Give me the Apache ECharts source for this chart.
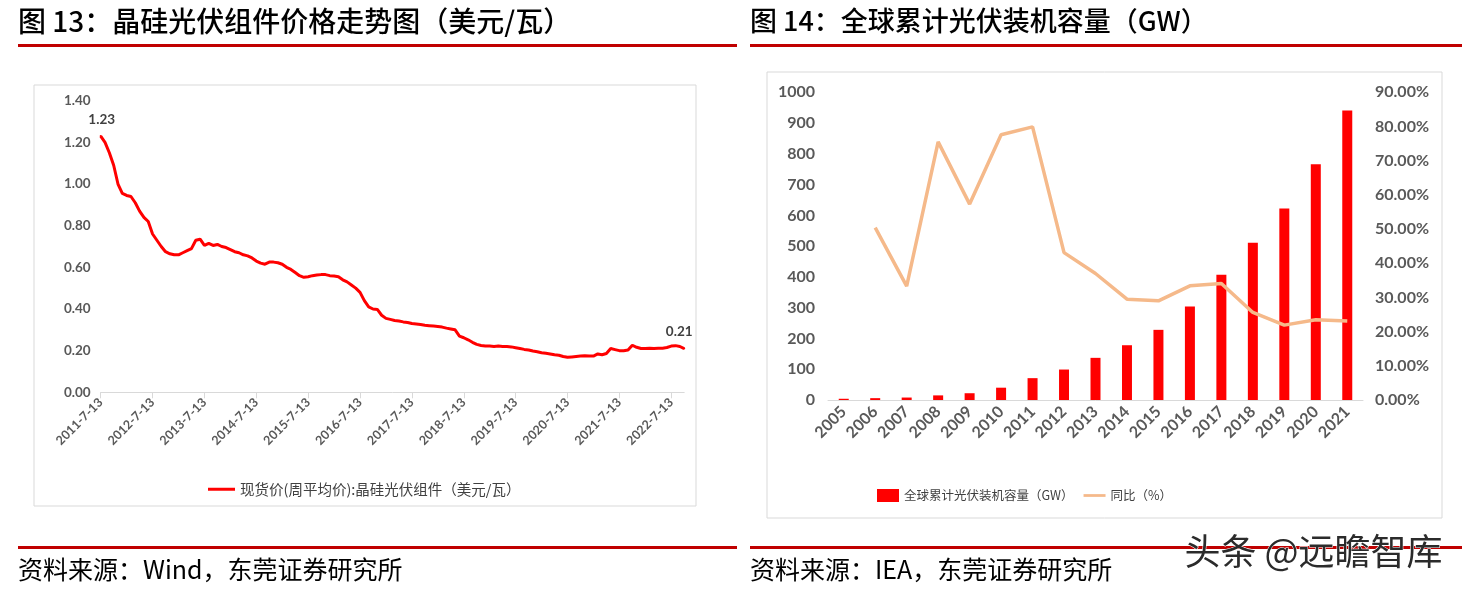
<!DOCTYPE html>
<html>
<head>
<meta charset="utf-8">
<script src="https://cdn.jsdelivr.net/npm/echarts@6/dist/echarts.min.js"></script>
<style>
html, body { margin: 0; padding: 0; background: #fff; }
#main { width: 1473px; height: 595px; }
</style>
</head>
<body>
<div id="main"></div>
<script>
// 图13：现货价(周平均价) 晶硅光伏组件，按月读取，2011-7 ~ 2022-10
const priceDates = []
for (let i = 0; i < 136; i++) {
  const y = 2011 + Math.floor((6 + i) / 12)
  const m = (6 + i) % 12 + 1
  priceDates.push(y + '-' + m + '-13')
}
const priceValues = [
  1.23, 1.20, 1.15, 1.09, 1.00, 0.955, 0.945, 0.94, 0.91, 0.87, 0.84, 0.82,
  0.76, 0.73, 0.70, 0.675, 0.665, 0.66, 0.66, 0.67, 0.68, 0.69, 0.73, 0.735,
  0.705, 0.715, 0.705, 0.71, 0.70, 0.695, 0.685, 0.675, 0.67, 0.66, 0.655, 0.645,
  0.63, 0.62, 0.615, 0.625, 0.625, 0.622, 0.615, 0.60, 0.59, 0.575, 0.56, 0.552,
  0.555, 0.56, 0.563, 0.565, 0.565, 0.56, 0.558, 0.555, 0.54, 0.53, 0.515, 0.50,
  0.48, 0.44, 0.41, 0.40, 0.398, 0.37, 0.355, 0.35, 0.345, 0.342, 0.338, 0.335,
  0.33, 0.328, 0.325, 0.322, 0.32, 0.318, 0.316, 0.313, 0.308, 0.304, 0.30, 0.27,
  0.262, 0.252, 0.24, 0.23, 0.225, 0.222, 0.222, 0.22, 0.222, 0.22, 0.22, 0.218,
  0.214, 0.21, 0.206, 0.203, 0.198, 0.195, 0.19, 0.187, 0.184, 0.18, 0.178, 0.172,
  0.168, 0.17, 0.172, 0.174, 0.176, 0.174, 0.174, 0.184, 0.18, 0.186, 0.21, 0.205,
  0.20, 0.20, 0.203, 0.226, 0.216, 0.21, 0.21, 0.212, 0.21, 0.211, 0.212, 0.215,
  0.222, 0.224, 0.22, 0.21
]

// 图14：全球累计光伏装机容量
const years = ['2005', '2006', '2007', '2008', '2009', '2010', '2011', '2012', '2013',
  '2014', '2015', '2016', '2017', '2018', '2019', '2020', '2021']
const capacityGW = [4, 6, 8, 15, 22, 40, 71, 99, 137, 178, 228, 304, 407, 511, 622, 766, 941]
const growthPct = [null, 50.4, 33.3, 75.5, 57.3, 77.6, 79.9, 43.1, 37.0, 29.5, 29.0, 33.4,
  34.1, 25.6, 21.9, 23.5, 23.1]

const numFont = 'Lato, "Noto Sans CJK SC", sans-serif'
const cjkFont = '"Noto Sans CJK SC", sans-serif'
const gray = '#595959'

// 首尾两点显示数据标签
const lastIdx = priceValues.length - 1
const priceData = priceValues.map((v, i) => {
  if (i === 0 || i === lastIdx) {
    return {
      value: v,
      symbol: 'circle',
      symbolSize: 2,
      label: {
        show: true, position: 'top', distance: 9,
        offset: i === 0 ? [1, 0] : [-5, 0]
      }
    }
  }
  return v
})

const chart = echarts.init(document.getElementById('main'))

const option = {
  animation: false,
  textStyle: { fontFamily: numFont },
  grid: [
    { left: 100.7, top: 100.7, width: 583.5, height: 291.6 },
    { left: 828, top: 92.3, width: 535, height: 307.7 }
  ],
  legend: [
    {
      left: 203, top: 477,
      itemWidth: 27, itemHeight: 14, itemGap: 20,
      data: [{ name: '现货价(周平均价):晶硅光伏组件（美元/瓦）', icon: 'path://M0,0H27V3H0Z' }],
      textStyle: { fontFamily: cjkFont, fontSize: 14.5, color: '#404040' }
    },
    {
      left: 872, top: 484,
      itemWidth: 22, itemHeight: 13, itemGap: 10,
      data: [
        { name: '全球累计光伏装机容量（GW）', icon: 'rect' },
        { name: '同比（%）', icon: 'path://M0,0H24V3H0Z' }
      ],
      textStyle: { fontFamily: cjkFont, fontSize: 12.5, color: '#404040' }
    }
  ],
  xAxis: [
    {
      gridIndex: 0,
      type: 'category',
      data: priceDates,
      boundaryGap: false,
      axisLine: { lineStyle: { color: '#d9d9d9' } },
      axisTick: { interval: 11, length: 6, lineStyle: { color: '#d9d9d9' } },
      axisLabel: {
        interval: 11, rotate: 45, margin: 8,
        color: gray, fontWeight: 'bold', fontSize: 12.5, fontFamily: numFont
      }
    },
    {
      gridIndex: 1,
      type: 'category',
      data: years,
      axisLine: { lineStyle: { color: '#d9d9d9' } },
      axisTick: { show: false },
      axisLabel: {
        interval: 0, rotate: 45, margin: 9,
        color: gray, fontWeight: 'bold', fontSize: 16, fontFamily: numFont
      }
    }
  ],
  yAxis: [
    {
      gridIndex: 0,
      type: 'value',
      min: 0, max: 1.4, interval: 0.2,
      splitLine: { show: false },
      axisLine: { show: false },
      axisTick: { show: false },
      axisLabel: {
        margin: 10, color: gray, fontWeight: 'bold', fontSize: 13.5,
        formatter: v => v.toFixed(2)
      }
    },
    {
      gridIndex: 1,
      type: 'value',
      min: 0, max: 1000, interval: 100,
      splitLine: { show: false },
      axisLine: { show: false },
      axisTick: { show: false },
      axisLabel: {
        margin: 13, color: gray, fontWeight: 'bold', fontSize: 16,
        formatter: v => String(v)
      }
    },
    {
      gridIndex: 1,
      type: 'value',
      position: 'right',
      min: 0, max: 90, interval: 10,
      splitLine: { show: false },
      axisLine: { show: false },
      axisTick: { show: false },
      axisLabel: {
        margin: 12, color: gray, fontWeight: 'bold', fontSize: 16,
        formatter: v => v.toFixed(2) + '%'
      }
    }
  ],
  series: [
    {
      name: '现货价(周平均价):晶硅光伏组件（美元/瓦）',
      type: 'line',
      xAxisIndex: 0,
      yAxisIndex: 0,
      data: priceData,
      symbol: 'none',
      showAllSymbol: true,
      lineStyle: { color: '#ff0000', width: 3 },
      itemStyle: { color: '#ff0000' },
      label: {
        color: '#404040', fontWeight: 'bold', fontSize: 13.5, fontFamily: numFont,
        formatter: p => p.value.toFixed(2)
      }
    },
    {
      name: '全球累计光伏装机容量（GW）',
      type: 'bar',
      xAxisIndex: 1,
      yAxisIndex: 1,
      data: capacityGW,
      barWidth: 10,
      itemStyle: { color: '#ff0000' }
    },
    {
      name: '同比（%）',
      type: 'line',
      xAxisIndex: 1,
      yAxisIndex: 2,
      data: growthPct,
      symbol: 'none',
      lineStyle: { color: '#f5b98a', width: 3.5 },
      itemStyle: { color: '#f5b98a' }
    }
  ],
  graphic: [
    // 标题
    { type: 'text', left: 18, top: 7, style: { text: '图 13：晶硅光伏组件价格走势图（美元/瓦）', font: '500 28px "Noto Sans CJK SC"', fill: '#000' } },
    { type: 'text', left: 750, top: 7, style: { text: '图 14：全球累计光伏装机容量（GW）', font: '500 27px "Noto Sans CJK SC"', fill: '#000' } },
    // 红色分隔线
    { type: 'rect', shape: { x: 18, y: 44, width: 719, height: 3 }, style: { fill: '#c00000' } },
    { type: 'rect', shape: { x: 750, y: 44, width: 712, height: 3 }, style: { fill: '#c00000' } },
    { type: 'rect', shape: { x: 18, y: 546, width: 719, height: 3 }, style: { fill: '#c00000' } },
    { type: 'rect', shape: { x: 750, y: 546, width: 712, height: 3 }, style: { fill: '#c00000' } },
    // 图表边框
    { type: 'rect', shape: { x: 34, y: 85, width: 662, height: 421 }, style: { fill: 'none', stroke: '#d9d9d9', lineWidth: 1 } },
    { type: 'rect', shape: { x: 767, y: 72, width: 675, height: 446 }, style: { fill: 'none', stroke: '#d9d9d9', lineWidth: 1 } },
    // 资料来源
    { type: 'text', left: 18, top: 557, style: { text: '资料来源：Wind，东莞证券研究所', font: '25px "Noto Sans CJK SC"', fill: '#000' } },
    { type: 'text', left: 750, top: 557, style: { text: '资料来源：IEA，东莞证券研究所', font: '25px "Noto Sans CJK SC"', fill: '#000' } },
    // 水印
    { type: 'text', left: 1184, top: 533, style: { text: '头条 @远瞻智库', font: '36px "Noto Sans CJK SC"', fill: '#2b2b2b', stroke: '#fff', lineWidth: 1 } }
  ]
}

chart.setOption(option)
</script>
</body>
</html>
